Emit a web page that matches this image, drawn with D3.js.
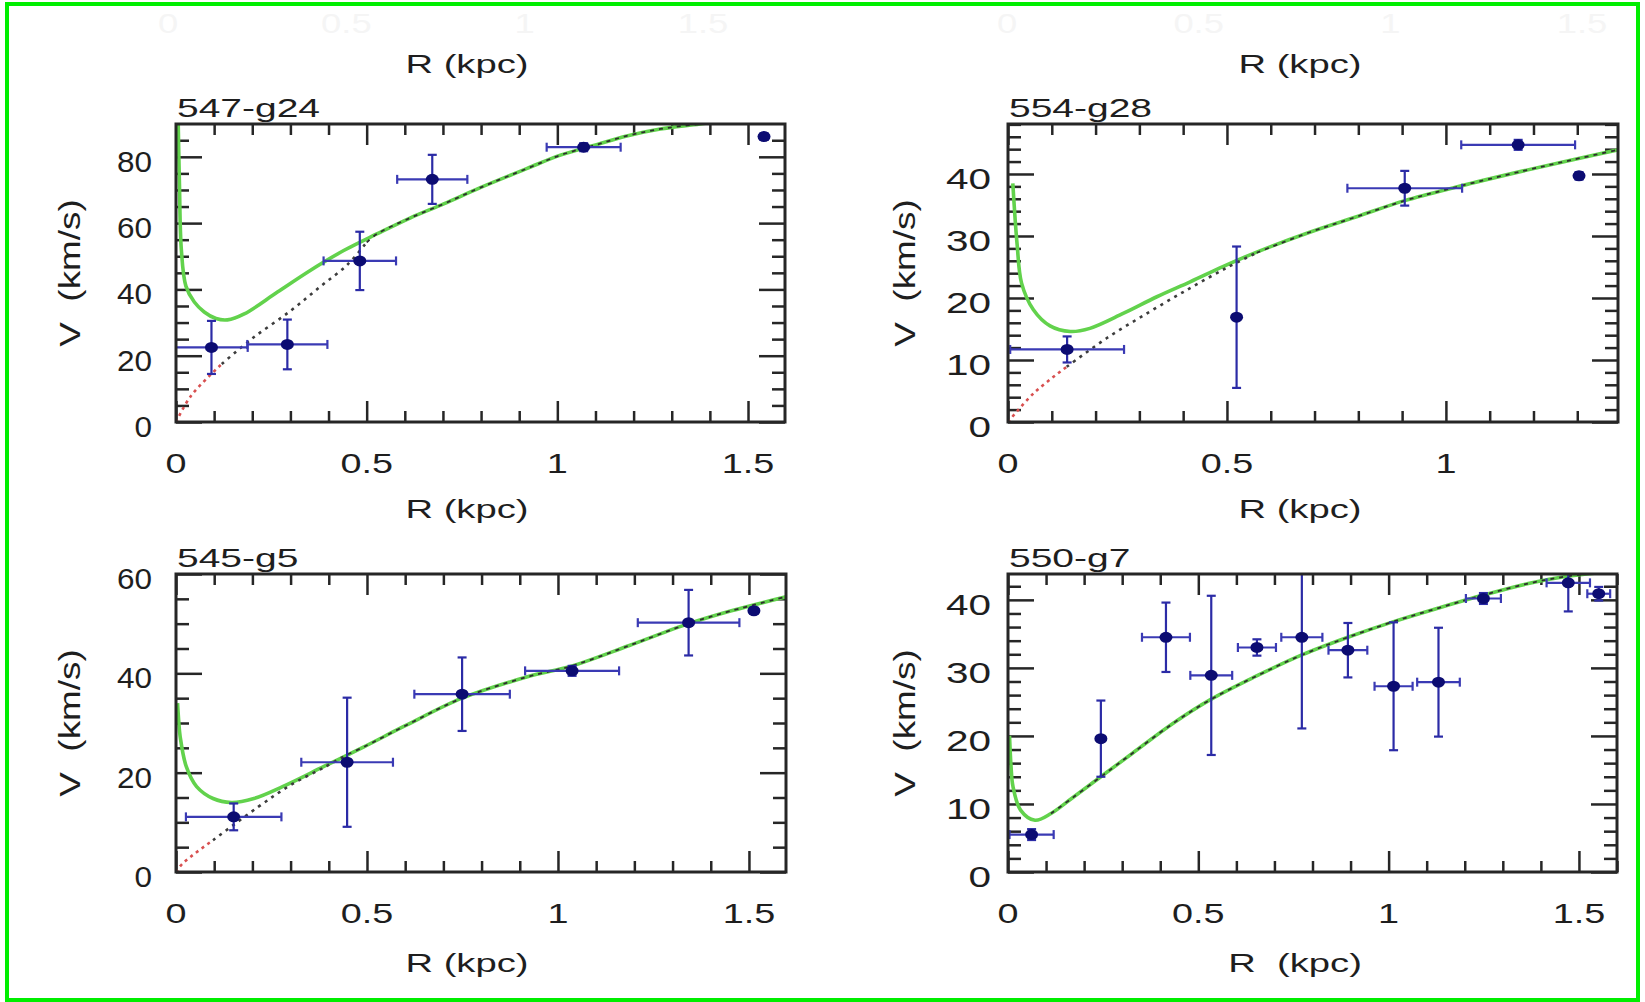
<!DOCTYPE html>
<html>
<head>
<meta charset="utf-8">
<script src="https://cdn.jsdelivr.net/npm/d3@7"></script>
<style>
  html, body { margin: 0; padding: 0; background: #fff; }
  svg { display: block; }
  text { font-family: "Liberation Sans", Arial, Helvetica, sans-serif; fill: #1e1e1e; }
</style>
</head>
<body>
<svg id="chart" width="1645" height="1002"></svg>
<script>
// Rotation curves of four dwarf galaxies: observed V(R) with error bars,
// the total model fit (green) and the halo term (dotted, dashed where it joins the fit).

const galaxyNames = ["547-g24", "554-g28", "545-g5", "550-g7"];

// observed points: [R (kpc), V (km/s), error in R, error in V]
const obs547 = [
  [0.093, 22.5, 0.095, 8.0],
  [0.292, 23.4, 0.105, 7.5],
  [0.482, 48.6, 0.095, 8.8],
  [0.672, 73.2, 0.092, 7.4],
  [1.069, 82.9, 0.097, 1.2],
  [1.542, 86.1, 0, 1.0]
];
const obs554 = [
  [0.135, 11.7, 0.13, 2.1],
  [0.522, 16.9, 0, 11.4],
  [0.906, 37.7, 0.131, 2.8],
  [1.165, 44.7, 0.13, 0.8],
  [1.304, 39.7, 0, 0.6]
];
const obs545 = [
  [0.151, 11.1, 0.125, 2.7],
  [0.448, 22.1, 0.12, 13.0],
  [0.749, 35.8, 0.125, 7.4],
  [1.037, 40.5, 0.123, 1.0],
  [1.342, 50.2, 0.133, 6.6],
  [1.513, 52.6, 0, 0.6]
];
const obs550 = [
  [0.062, 5.5, 0.058, 0.8],
  [0.244, 19.6, 0, 5.6],
  [0.415, 34.5, 0.063, 5.1],
  [0.534, 28.9, 0.055, 11.7],
  [0.654, 33.0, 0.05, 1.2],
  [0.772, 34.5, 0.054, 13.4],
  [0.893, 32.6, 0.051, 4.0],
  [1.013, 27.3, 0.05, 9.4],
  [1.131, 27.9, 0.056, 8.0],
  [1.249, 40.2, 0.046, 0.8],
  [1.472, 42.5, 0.057, 4.2],
  [1.552, 40.9, 0.03, 1.0]
];

// total model curves: [R, V]
const fit547 = [[0.005, 95], [0.009, 72], [0.014, 52], [0.026, 41], [0.048, 36.2], [0.074, 33.2],
  [0.105, 31.2], [0.135, 30.8], [0.179, 32.6], [0.266, 39.2], [0.353, 45.8], [0.441, 51.8],
  [0.528, 56.8], [0.615, 61.6], [0.702, 65.8], [0.798, 70.7], [0.921, 76.5], [1.008, 80.5],
  [1.095, 83.4], [1.182, 86.3], [1.27, 88.4], [1.357, 89.7], [1.45, 91], [1.6, 92.5]];
const fit554 = [[0.011, 38.5], [0.016, 33], [0.021, 28.5], [0.031, 22.4], [0.058, 18.1], [0.096, 15.5],
  [0.142, 14.6], [0.187, 15.1], [0.263, 17.5], [0.34, 20.2], [0.416, 22.6], [0.492, 25.1],
  [0.568, 27.4], [0.689, 30.6], [0.796, 33.1], [0.906, 35.7], [1.024, 37.9], [1.177, 40.5],
  [1.29, 42.3], [1.393, 43.9]];
const fit545 = [[0.004, 34], [0.007, 30.5], [0.011, 27.2], [0.027, 21.2], [0.054, 17.2], [0.097, 14.8],
  [0.145, 14.0], [0.204, 14.8], [0.279, 17.2], [0.386, 21.2], [0.492, 25.2], [0.599, 29.4],
  [0.749, 35.0], [0.92, 39.3], [1.037, 41.5], [1.187, 45.6], [1.342, 50.0], [1.454, 52.6],
  [1.597, 55.4]];
const fit550 = [[0.004, 20], [0.008, 15.5], [0.013, 12.6], [0.033, 9.1], [0.071, 7.6], [0.113, 8.6],
  [0.167, 10.8], [0.244, 14.0], [0.328, 17.5], [0.435, 21.9], [0.534, 25.4], [0.649, 28.7],
  [0.772, 31.9], [0.893, 34.5], [1.013, 36.8], [1.131, 38.8], [1.249, 40.7], [1.367, 42.4],
  [1.474, 43.5], [1.6, 44.2]];

// halo term near the centre, up to where it joins the total curve
const halo547 = [[0, 0], [0.04, 8], [0.12, 17.5], [0.2, 25.2], [0.3, 33.5], [0.38, 41], [0.45, 47.5], [0.5, 54.2]];
const halo554 = [[0, 0], [0.058, 4.6], [0.134, 8.9], [0.225, 13.5], [0.324, 17.8], [0.416, 21.6], [0.5, 24.9], [0.568, 27.3]];
const halo545 = [[0, 0], [0.017, 1.7], [0.097, 6.4], [0.215, 13.1], [0.3, 17.5], [0.386, 21.0], [0.45, 23.7]];
const halo550 = [];

// tick labels
const xTickLabels = ["0", "0.5", "1", "1.5"];
const yTicks547 = ["0", "20", "40", "60", "80"];
const yTicks554 = ["0", "10", "20", "30", "40"];
const yTicks545 = ["0", "20", "40", "60"];
const yTicks550 = ["0", "10", "20", "30", "40"];

const svg = d3.select("#chart");
svg.append("rect").attr("width", 1645).attr("height", 1002).attr("fill", "#fff");

const ink = "#262626";

function addText(parent, str, x, y, o) {
  const t = parent.append("text")
    .attr("transform", `translate(${x},${y})` + (o.rotate ? ` rotate(${o.rotate})` : "") + ` scale(${o.sx || 1},1)`)
    .attr("text-anchor", o.anchor || "middle")
    .style("font-size", o.size + "px")
    .text(str);
  if (o.fill) t.style("fill", o.fill);
  return t;
}

const panels = [
  { name: galaxyNames[0], obs: obs547, fit: fit547, halo: halo547, yTicks: yTicks547,
    xMax: 1.597, yMax: 89.9, yMinor: 5, box: [176, 124, 785, 422], col: 0,
    xTitles: [{ y: 73, text: "R (kpc)", cx: 467 }, { y: 518, text: "R (kpc)", cx: 467 }] },
  { name: galaxyNames[1], obs: obs554, fit: fit554, halo: halo554, yTicks: yTicks554,
    xMax: 1.393, yMax: 48.06, yMinor: 2, box: [1008, 124, 1618, 422], col: 1,
    xTitles: [{ y: 73, text: "R (kpc)", cx: 1300 }, { y: 518, text: "R (kpc)", cx: 1300 }] },
  { name: galaxyNames[2], obs: obs545, fit: fit545, halo: halo545, yTicks: yTicks545,
    xMax: 1.597, yMax: 60, yMinor: 5, box: [176, 574, 786, 872], col: 0,
    xTitles: [{ y: 972, text: "R (kpc)", cx: 467 }] },
  { name: galaxyNames[3], obs: obs550, fit: fit550, halo: halo550, yTicks: yTicks550,
    xMax: 1.6, yMax: 43.8, yMinor: 2, box: [1008, 574, 1617, 872], col: 1,
    xTitles: [{ y: 972, text: "R\u00a0 (kpc)", cx: 1295 }] }
];

// faint ghost labels along the top margin
[[168, 703], [1007, 1582]].forEach(r => {
  const gx = d3.scaleLinear().domain([0, 1.5]).range(r);
  xTickLabels.forEach(l => addText(svg, l, gx(+l), 33, { size: 28, sx: 1.3, fill: "#f5f5f5" }));
});

panels.forEach((p, i) => {
  const [x0, y0, x1, y1] = p.box;
  const x = d3.scaleLinear().domain([0, p.xMax]).range([x0, x1]);
  const y = d3.scaleLinear().domain([0, p.yMax]).range([y1, y0]);
  const g = svg.append("g");

  const clipId = "clip" + i;
  svg.append("clipPath").attr("id", clipId)
    .append("rect").attr("x", x0).attr("y", y0).attr("width", x1 - x0).attr("height", y1 - y0);

  // inward ticks on all four sides
  const near = (a, b) => Math.abs(a - b) < 1e-6;
  const xMajor = xTickLabels.map(Number).filter(v => v <= p.xMax + 1e-9);
  const xMinor = d3.range(0, p.xMax + 1e-9, 0.1).filter(v => !xMajor.some(m => near(m, v)));
  const yMajor = p.yTicks.map(Number);
  const yMinor = d3.range(0, p.yMax + 1e-9, p.yMinor).filter(v => !yMajor.some(m => near(m, v)));

  function tickSet(axis, tx, ty) {
    const a = g.append("g").attr("transform", `translate(${tx},${ty})`).call(axis);
    a.select(".domain").remove();
    a.selectAll("text").remove();
    a.selectAll("line").attr("stroke", ink).attr("stroke-width", 2.5);
  }
  tickSet(d3.axisBottom(x).tickValues(xMajor).tickSize(-21).tickFormat(""), 0, y1);
  tickSet(d3.axisBottom(x).tickValues(xMinor).tickSize(-11).tickFormat(""), 0, y1);
  tickSet(d3.axisTop(x).tickValues(xMajor).tickSize(-21).tickFormat(""), 0, y0);
  tickSet(d3.axisTop(x).tickValues(xMinor).tickSize(-11).tickFormat(""), 0, y0);
  tickSet(d3.axisLeft(y).tickValues(yMajor).tickSize(-26).tickFormat(""), x0, 0);
  tickSet(d3.axisLeft(y).tickValues(yMinor).tickSize(-13).tickFormat(""), x0, 0);
  tickSet(d3.axisRight(y).tickValues(yMajor).tickSize(-26).tickFormat(""), x1, 0);
  tickSet(d3.axisRight(y).tickValues(yMinor).tickSize(-13).tickFormat(""), x1, 0);

  const plot = g.append("g").attr("clip-path", `url(#${clipId})`);
  const line = d3.line().x(d => x(d[0])).y(d => y(d[1])).curve(d3.curveCatmullRom.alpha(0.5));

  // total fit
  plot.append("path").datum(p.fit).attr("d", line)
    .attr("fill", "none").attr("stroke", "#62d24c").attr("stroke-width", 3.6);

  // halo: red dots near the centre, dark dots further out
  if (p.halo.length) {
    const split = 0.14;
    const inner = p.halo.filter(d => d[0] <= split + 0.05);
    const outer = p.halo.filter(d => d[0] >= split - 0.05);
    plot.append("path").datum(inner).attr("d", line)
      .attr("fill", "none").attr("stroke", "#d85050").attr("stroke-width", 2.6)
      .attr("stroke-dasharray", "3,4");
    plot.append("path").datum(outer).attr("d", line)
      .attr("fill", "none").attr("stroke", "#3c3c3c").attr("stroke-width", 2.6)
      .attr("stroke-dasharray", "3,5");
  }
  // where the halo merges with the fit, it is drawn dashed on top of the green curve
  const joinR = p.halo.length ? p.halo[p.halo.length - 1][0] : 0.1;
  const overlay = (p.halo.length ? [p.halo[p.halo.length - 1]] : []).concat(p.fit.filter(d => d[0] > joinR));
  plot.append("path").datum(overlay).attr("d", line)
    .attr("fill", "none").attr("stroke", "#2e2e2e").attr("stroke-width", 1.8)
    .attr("stroke-dasharray", "4,5");

  // error bars
  const barColor = "#2b2ba6", cap = 4.5;
  const vBars = p.obs.filter(d => d[3] > 0);
  const hBars = p.obs.filter(d => d[2] > 0);
  plot.selectAll(".vbar").data(vBars).join("line").attr("class", "vbar")
    .attr("x1", d => x(d[0])).attr("x2", d => x(d[0]))
    .attr("y1", d => y(d[1] - d[3])).attr("y2", d => y(d[1] + d[3]))
    .attr("stroke", barColor).attr("stroke-width", 2.2);
  plot.selectAll(".vcap").data(vBars.flatMap(d => [[d[0], d[1] - d[3]], [d[0], d[1] + d[3]]]))
    .join("line").attr("class", "vcap")
    .attr("x1", d => x(d[0]) - cap).attr("x2", d => x(d[0]) + cap)
    .attr("y1", d => y(d[1])).attr("y2", d => y(d[1]))
    .attr("stroke", barColor).attr("stroke-width", 2.2);
  plot.selectAll(".hbar").data(hBars).join("line").attr("class", "hbar")
    .attr("x1", d => x(d[0] - d[2])).attr("x2", d => x(d[0] + d[2]))
    .attr("y1", d => y(d[1])).attr("y2", d => y(d[1]))
    .attr("stroke", "#3a3ab4").attr("stroke-width", 2.2);
  plot.selectAll(".hcap").data(hBars.flatMap(d => [[d[0] - d[2], d[1]], [d[0] + d[2], d[1]]]))
    .join("line").attr("class", "hcap")
    .attr("x1", d => x(d[0])).attr("x2", d => x(d[0]))
    .attr("y1", d => y(d[1]) - cap).attr("y2", d => y(d[1]) + cap)
    .attr("stroke", "#3a3ab4").attr("stroke-width", 2.2);

  // observed points
  plot.selectAll(".pt").data(p.obs).join("ellipse").attr("class", "pt")
    .attr("cx", d => x(d[0])).attr("cy", d => y(d[1]))
    .attr("rx", 6.5).attr("ry", 5.5).attr("fill", "#0c0c72");

  // frame
  g.append("rect").attr("x", x0).attr("y", y0).attr("width", x1 - x0).attr("height", y1 - y0)
    .attr("fill", "none").attr("stroke", ink).attr("stroke-width", 3);

  // labels
  addText(svg, p.name, x0 + 1, y0 - 7, { size: 26, sx: 1.5, anchor: "start" });
  xMajor.forEach((v, k) => addText(svg, xTickLabels[k], x(v), y1 + 51, { size: 28, sx: 1.35 }));
  p.yTicks.forEach(l => addText(svg, l, x0 - (p.col ? 17 : 24), y(+l) + 15,
    { size: 30, sx: p.col ? 1.35 : 1.05, anchor: "end" }));
  addText(svg, "V\u00a0 (km/s)", p.col ? 915 : 80, (y0 + y1) / 2, { size: 30, sx: 1.23, rotate: -90 });
  p.xTitles.forEach(t => addText(svg, t.text, t.cx, t.y, { size: 26, sx: 1.47 }));
});

// outer frame
svg.append("rect").attr("x", 7).attr("y", 4).attr("width", 1631).attr("height", 996)
  .attr("fill", "none").attr("stroke", "#00ee00").attr("stroke-width", 4);
</script>
</body>
</html>
